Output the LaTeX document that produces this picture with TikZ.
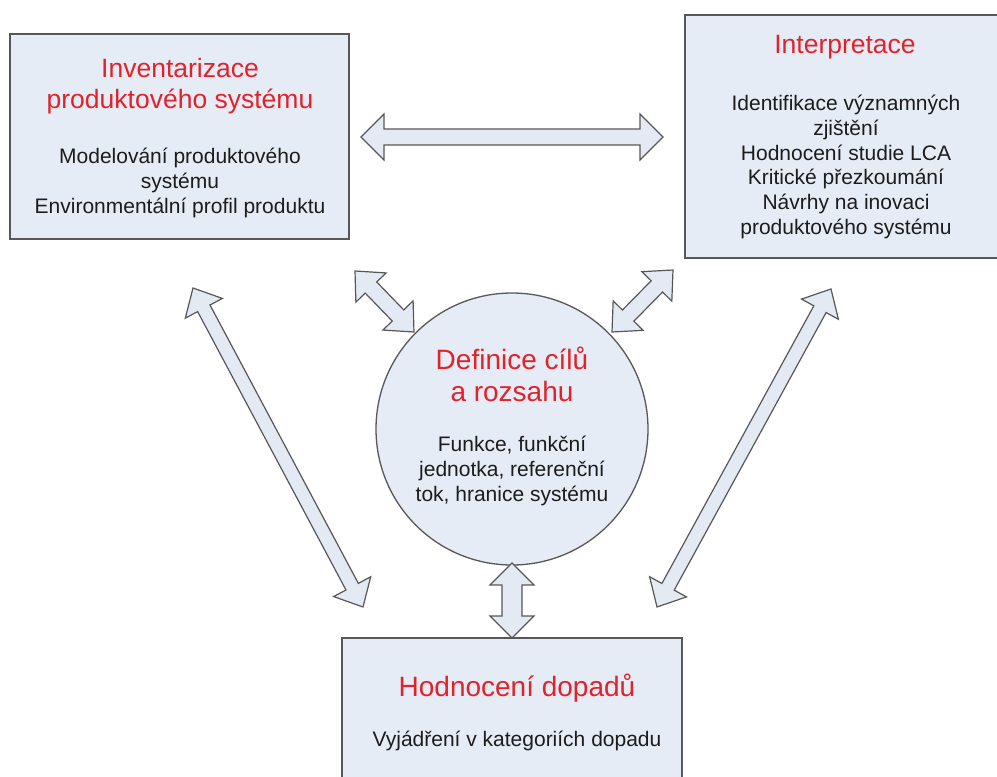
\documentclass[tikz,border=0pt]{standalone}
\usepackage{fontspec}
\setmainfont{Liberation Sans}
\usetikzlibrary{calc}
\definecolor{boxfill}{HTML}{E6ECF6}
\definecolor{arrowfill}{HTML}{E4EAF4}
\definecolor{edgec}{HTML}{575757}
\definecolor{titlec}{HTML}{E0232B}
\definecolor{bodyc}{HTML}{1C1C1C}
\newcommand{\blockarrow}[5]{%
 \path[draw=edgec, fill=arrowfill, line width=1.2pt, line join=miter]
 let \p1=(#1), \p2=(#2), \n1={atan2(\y2-\y1,\x2-\x1)}, \n2={veclen(\x2-\x1,\y2-\y1)} in
 [shift={(\p1)}, rotate=\n1]
 (0pt,0pt) -- (#5pt,#4pt) -- (#5pt,#3pt) -- ({\n2-#5pt},#3pt) -- ({\n2-#5pt},#4pt) -- ({\n2},0pt)
 -- ({\n2-#5pt},-#4pt) -- ({\n2-#5pt},-#3pt) -- (#5pt,-#3pt) -- (#5pt,-#4pt) -- cycle;}
\tikzset{
  blockbox/.style={draw=edgec, fill=boxfill, line width=1.3pt, rectangle, inner sep=0pt},
  ttl/.style={text=titlec, font=\fontsize{26.5}{31}\selectfont, align=center, inner sep=0pt},
  ttlb/.style={text=titlec, font=\fontsize{28}{32}\selectfont, align=center, inner sep=0pt},
  bdy/.style={text=bodyc, font=\fontsize{21}{24.8}\selectfont, align=center, inner sep=0pt},
}
\begin{document}
\begin{tikzpicture}[x=1pt,y=-1pt]
\useasboundingbox (0,0) rectangle (997,777);
% boxes
\node[blockbox, minimum width=339pt, minimum height=205pt] (inv) at (179.5,136.5) {};
\node[blockbox, minimum width=330pt, minimum height=243pt] (interp) at (850,136.5) {};
\node[blockbox, minimum width=340pt, minimum height=150pt] (hodn) at (512,713) {};
\node[draw=edgec, fill=boxfill, line width=1.3pt, circle, minimum size=272pt, inner sep=0pt] (defn) at (512,429) {};
% texts
\node[ttl] (invT) at (180,86) {Inventarizace\\produktového systému};
\node[bdy] (invB) at (180,183) {Modelování produktového\\systému\\Environmentální profil produktu};
\node[ttl] (interpT) at (845,47) {Interpretace};
\node[bdy] (interpB) at (846,167) {Identifikace významných\\zjištění\\Hodnocení studie LCA\\Kritické přezkoumání\\Návrhy na inovaci\\produktového systému};
\node[ttlb] (defnT) at (512,374) {Definice cílů\\a rozsahu};
\node[bdy] (defnB) at (512,471) {Funkce, funkční\\jednotka, referenční\\tok, hranice systému};
\node[ttlb] (hodnT) at (517,688) {Hodnocení dopadů};
\node[bdy] (hodnB) at (517,741) {Vyjádření v kategoriích dopadu};
% arrow end points
\coordinate (h1) at (361,137);
\coordinate (h2) at (663,137);
\coordinate (d1) at (355,271);
\coordinate (d2) at (414,332);
\coordinate (e1) at (612,332);
\coordinate (e2) at (673,270);
\coordinate (v1) at (512,563);
\coordinate (v2) at (512,638);
\coordinate (l1) at (193,288);
\coordinate (l2) at (363,607);
\coordinate (r1) at (831,289);
\coordinate (r2) at (657,607);
% arrows
\blockarrow{h1}{h2}{8}{23}{23}
\blockarrow{d1}{d2}{8}{21}{23}
\blockarrow{e1}{e2}{8}{21}{23}
\blockarrow{v1}{v2}{10}{22}{22}
\blockarrow{l1}{l2}{7}{21}{23}
\blockarrow{r1}{r2}{7}{21}{23}
\end{tikzpicture}
\end{document}
